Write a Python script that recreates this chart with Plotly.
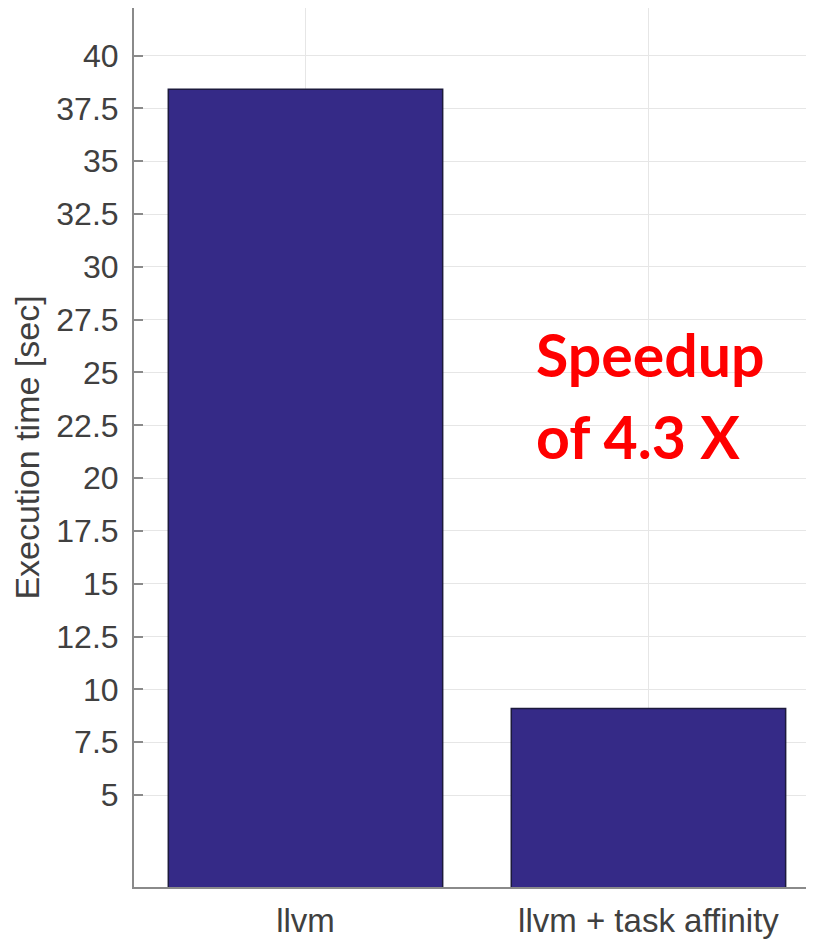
import plotly.graph_objects as go

categories = ["llvm", "llvm + task affinity"]
exec_time = [38.4, 9.1]
y_ticks = [5, 7.5, 10, 12.5, 15, 17.5, 20, 22.5, 25, 27.5, 30, 32.5, 35, 37.5, 40]
y_tick_labels = ["5", "7.5", "10", "12.5", "15", "17.5", "20", "22.5", "25", "27.5", "30", "32.5", "35", "37.5", "40"]
note_lines = ["Speedup", "of 4.3 X"]

# page has an 8px body margin; plot area targeted at page x 134.., y 7..887
fig = go.Figure()
fig.add_trace(go.Bar(
    x=[0, 1], y=exec_time, width=0.8,
    marker=dict(color="#352a87", line=dict(color="#1c1a3c", width=1.5)),
))

fig.update_layout(
    width=814, height=941,
    margin=dict(l=126, r=0, t=0, b=62, autoexpand=False),
    paper_bgcolor="white", plot_bgcolor="white",
    showlegend=False,
    font=dict(family="Liberation Sans, Arial, sans-serif", color="#404040"),
    xaxis=dict(
        range=[-0.5, 1.506], automargin=False,
        tickmode="array", tickvals=[0, 1], ticktext=categories,
        tickfont=dict(size=33, color="#404040"),
        ticklabelstandoff=3,
        showgrid=True, gridcolor="#e6e6e6", gridwidth=1,
        showline=True, linecolor="#8a8a8a", linewidth=2,
        ticks="", zeroline=False,
    ),
    yaxis=dict(
        range=[0.65, 42.25], automargin=False,
        tickmode="array", tickvals=y_ticks, ticktext=y_tick_labels,
        tickfont=dict(size=32, color="#404040"),
        ticklabelstandoff=7,
        showgrid=True, gridcolor="#e6e6e6", gridwidth=1,
        showline=True, linecolor="#8a8a8a", linewidth=2,
        ticks="inside", ticklen=9, tickcolor="#8a8a8a", tickwidth=2,
        zeroline=False,
        title=dict(text="Execution time [sec]", font=dict(size=34, color="#404040"), standoff=13),
    ),
)

for i, line in enumerate(note_lines):
    fig.add_annotation(
        x=0.665, xref="x", xanchor="left",
        y=1 - (354 + i * 83 - 8) / 879, yref="paper", yanchor="middle",
        text="<b>%s</b>" % line, showarrow=False,
        font=dict(family="Lato, Open Sans, sans-serif", size=59, color="#ff0000"),
    )

fig.write_html("out.html")
